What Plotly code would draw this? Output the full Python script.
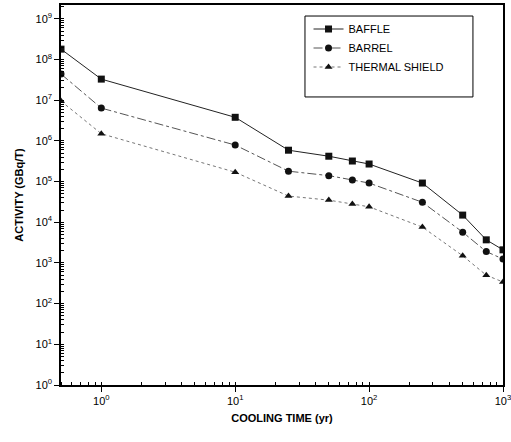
import plotly.graph_objects as go
import numpy as np

cooling_time = [0.5, 1, 10, 25, 50, 75, 100, 250, 500, 750, 1000]
baffle = [1.8e8, 3.3e7, 3.8e6, 5.9e5, 4.2e5, 3.2e5, 2.7e5, 9.2e4, 1.5e4, 3.7e3, 2.1e3]
barrel = [4.4e7, 6.4e6, 7.9e5, 1.8e5, 1.4e5, 1.1e5, 9.2e4, 3.1e4, 5.7e3, 1.9e3, 1.25e3]
thermal_shield = [9.5e6, 1.5e6, 1.7e5, 4.4e4, 3.5e4, 2.8e4, 2.4e4, 7.6e3, 1.5e3, 5.0e2, 3.4e2]

series_names = ["BAFFLE", "BARREL", "THERMAL SHIELD"]
x_title = "COOLING TIME (yr)"
y_title = "ACTIVITY (GBq/T)"
x_tick_exps = [0, 1, 2, 3]
y_tick_exps = [0, 1, 2, 3, 4, 5, 6, 7, 8, 9]

FONT = "Liberation Sans, Arial, sans-serif"

fig = go.Figure()
styles = [
    dict(symbol="square", dash="solid", color="#111111", lcolor="#222222"),
    dict(symbol="circle", dash="dashdot", color="#111111", lcolor="#555555"),
    dict(symbol="triangle-up", dash="dot", color="#111111", lcolor="#777777"),
]
for name, ys, st in zip(series_names, [baffle, barrel, thermal_shield], styles):
    fig.add_trace(go.Scatter(
        x=cooling_time, y=ys, name=name, mode="lines+markers",
        line=dict(color=st["lcolor"], width=1, dash=st["dash"]),
        marker=dict(symbol=st["symbol"], size=7, color=st["color"]),
        cliponaxis=True,
    ))

axis_common = dict(
    type="log", showgrid=False, zeroline=False, automargin=False,
    showline=True, linecolor="black", linewidth=1.5, mirror=True,
    ticks="outside", ticklen=5, tickwidth=1.2, tickcolor="black",
    ticklabeloverflow="allow",
    tickfont=dict(family=FONT, size=11, color="black"),
    minor=dict(ticks="inside", ticklen=3, tickcolor="black", dtick="D1", showgrid=False),
)

fig.update_xaxes(range=[np.log10(0.5), 3],
                 tickmode="array",
                 tickvals=[10 ** e for e in x_tick_exps],
                 ticktext=["10<sup>%d</sup>" % e for e in x_tick_exps],
                 title=dict(text="<b>" + x_title + "</b>", font=dict(family=FONT, size=11, color="black"), standoff=8),
                 **axis_common)
fig.update_yaxes(range=[0, 9.34],
                 tickmode="array",
                 tickvals=[10 ** e for e in y_tick_exps],
                 ticktext=["10<sup>%d</sup>" % e for e in y_tick_exps],
                 title=dict(text="<b>" + y_title + "</b>", font=dict(family=FONT, size=11, color="black"), standoff=10),
                 **axis_common)

# legend box
fig.add_shape(type="rect", xref="paper", yref="paper",
              x0=0.552, x1=0.932, y0=0.758, y1=0.971,
              line=dict(color="black", width=1), fillcolor="rgba(0,0,0,0)")

fig.update_layout(
    width=511, height=442,
    margin=dict(l=61, r=8, t=5, b=57),
    paper_bgcolor="white", plot_bgcolor="white",
    font=dict(family=FONT, color="black"),
    legend=dict(x=0.56, y=0.975, xanchor="left", yanchor="top",
                bgcolor="rgba(0,0,0,0)", borderwidth=0,
                font=dict(family=FONT, size=11, color="black"),
                itemwidth=30, tracegroupgap=0),
)

fig.write_html("out.html", config={"displayModeBar": False},
               post_script="document.body.style.margin='0px';document.body.style.padding='0px';")
